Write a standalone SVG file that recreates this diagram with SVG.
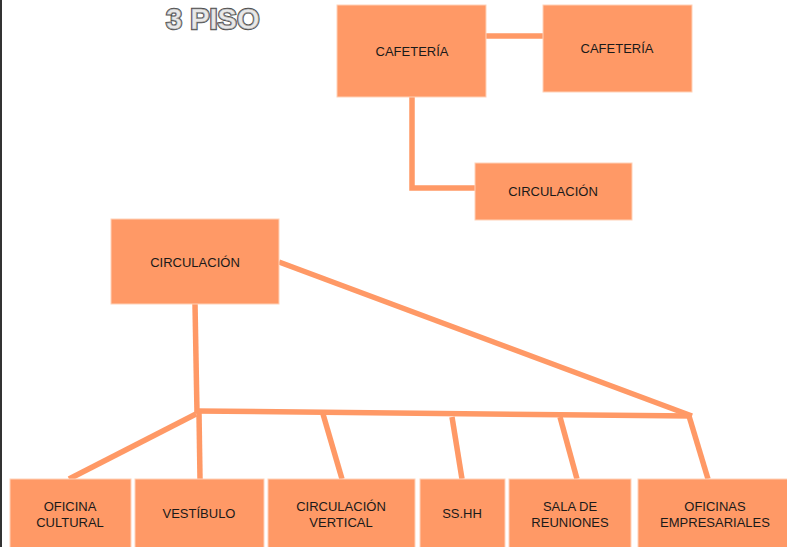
<svg xmlns="http://www.w3.org/2000/svg" width="787" height="547" viewBox="0 0 787 547">
<style>
.box{fill:#FF9966;stroke:#FFD2B8;stroke-width:1}
.lbl{font-family:"Liberation Sans",Arial,sans-serif;font-size:13px;fill:#1a1a1a;text-anchor:middle}
.ln{stroke:#FF9966;stroke-width:5.5;fill:none;stroke-linecap:butt}
.title{font-family:"Liberation Sans",Arial,sans-serif;font-size:29px;font-weight:bold;fill:#e8e8e8;stroke:#505050;stroke-width:2.4;paint-order:stroke}
.title2{font-family:"Liberation Sans",Arial,sans-serif;font-size:29px;font-weight:bold;fill:none;stroke:#9a9a9a;stroke-width:0.6}
</style>
<rect x="0" y="0" width="787" height="547" fill="#fff"/>
<rect x="0" y="0" width="2" height="547" fill="#333"/>
<text class="title" x="166" y="29">3 PISO</text>
<text class="title2" x="166" y="29">3 PISO</text>
<g id="connectors">
<line class="ln" x1="486" y1="36" x2="543" y2="36"/>
<polyline class="ln" points="412,97 412,188 475,188"/>
<line class="ln" x1="279" y1="262" x2="692" y2="416"/>
<line class="ln" x1="195" y1="304" x2="197" y2="413"/>
<line class="ln" x1="195" y1="411" x2="692" y2="416"/>
<line class="ln" x1="196" y1="414" x2="69" y2="479"/>
<line class="ln" x1="199" y1="413" x2="200" y2="479"/>
<line class="ln" x1="323" y1="414" x2="342" y2="479"/>
<line class="ln" x1="452" y1="417" x2="462" y2="479"/>
<line class="ln" x1="560" y1="417" x2="577" y2="479"/>
<line class="ln" x1="689" y1="416" x2="708" y2="479"/>
</g>
<g id="cafeteria1"><rect class="box" x="337" y="5" width="149" height="92"/><text class="lbl" x="412" y="56">CAFETERÍA</text></g>
<g id="cafeteria2"><rect class="box" x="543" y="5" width="149" height="87"/><text class="lbl" x="617" y="53">CAFETERÍA</text></g>
<g id="circulacion1"><rect class="box" x="475" y="163" width="157" height="57"/><text class="lbl" x="553" y="196">CIRCULACIÓN</text></g>
<g id="circulacion2"><rect class="box" x="111" y="219" width="168" height="85"/><text class="lbl" x="195" y="267">CIRCULACIÓN</text></g>
<g id="oficina-cultural"><rect class="box" x="10" y="479" width="121" height="70"/><text class="lbl" x="70" y="511">OFICINA</text><text class="lbl" x="70" y="527">CULTURAL</text></g>
<g id="vestibulo"><rect class="box" x="135" y="479" width="129" height="70"/><text class="lbl" x="199" y="518">VESTÍBULO</text></g>
<g id="circulacion-vertical"><rect class="box" x="268" y="479" width="147" height="70"/><text class="lbl" x="341" y="511">CIRCULACIÓN</text><text class="lbl" x="341" y="527">VERTICAL</text></g>
<g id="sshh"><rect class="box" x="420" y="479" width="85" height="70"/><text class="lbl" x="462" y="518">SS.HH</text></g>
<g id="sala-reuniones"><rect class="box" x="509" y="479" width="122" height="70"/><text class="lbl" x="570" y="511">SALA DE</text><text class="lbl" x="570" y="527">REUNIONES</text></g>
<g id="oficinas-empresariales"><rect class="box" x="638" y="479" width="152" height="70"/><text class="lbl" x="715" y="511">OFICINAS</text><text class="lbl" x="715" y="527">EMPRESARIALES</text></g>
</svg>
